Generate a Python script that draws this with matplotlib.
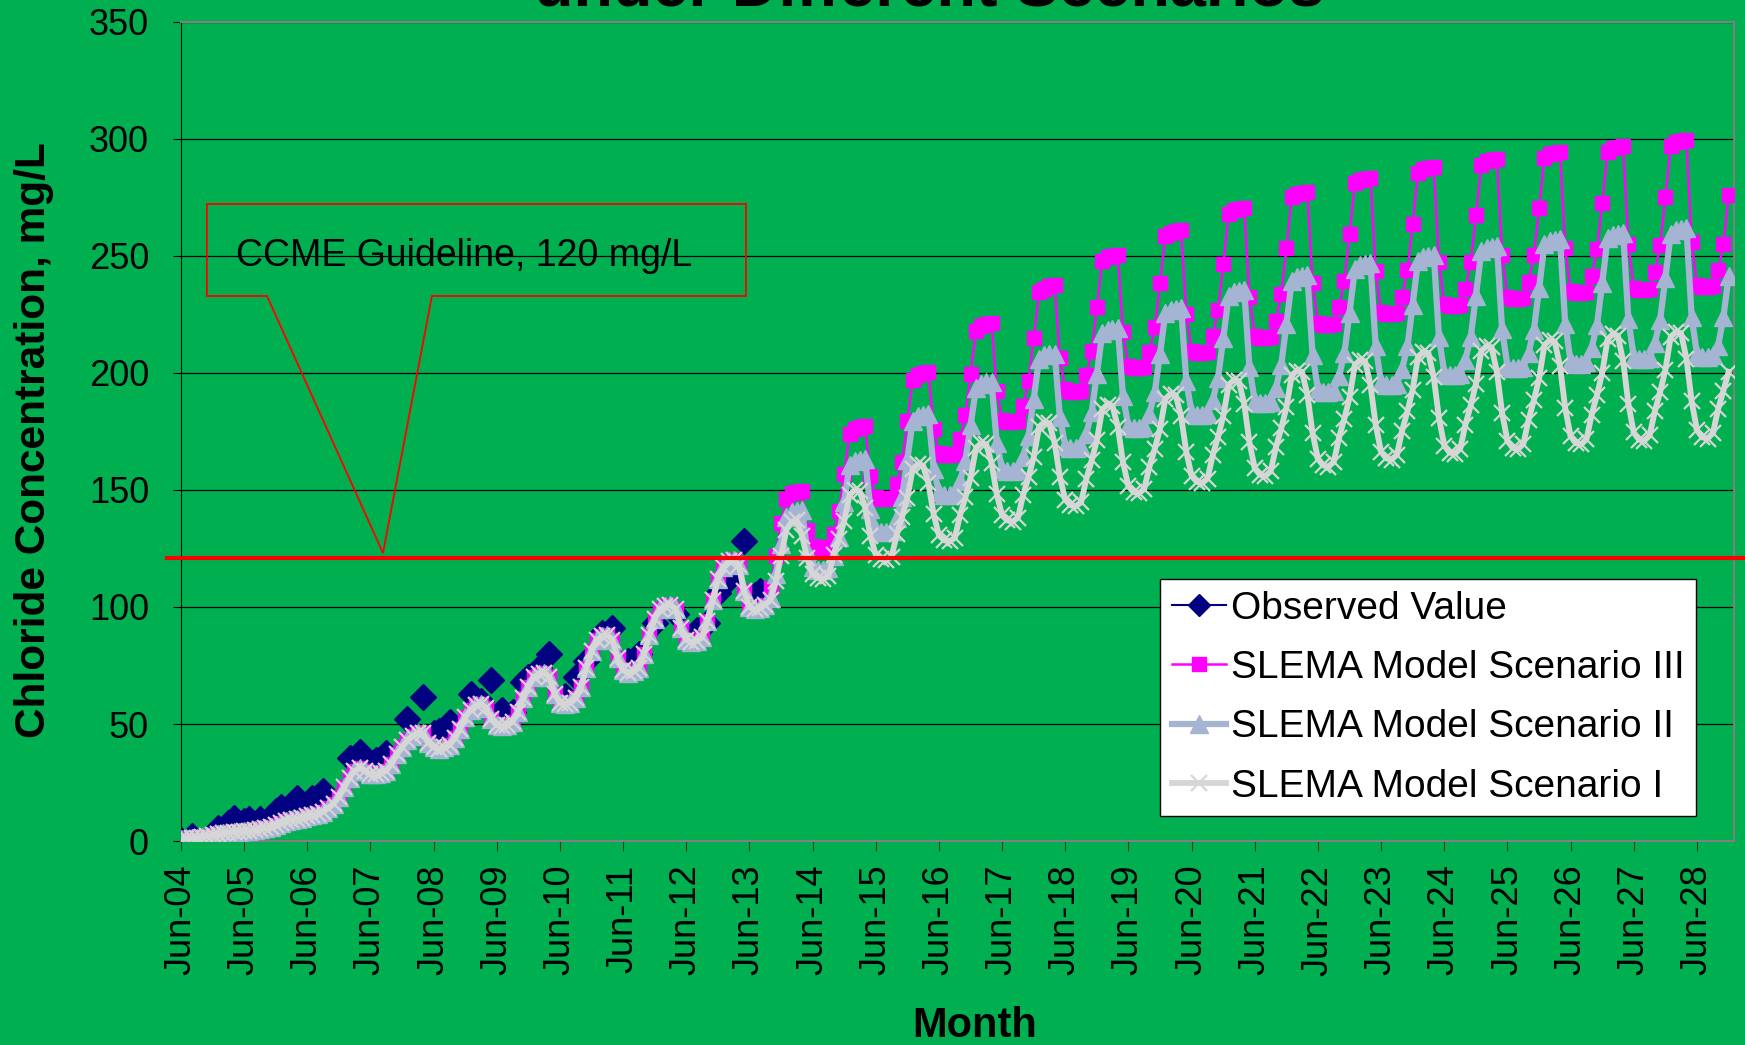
import numpy as np
import pandas as pd
import matplotlib
matplotlib.use("Agg")
import matplotlib.pyplot as plt
from matplotlib.lines import Line2D
from matplotlib.patches import Polygon
import matplotlib.transforms as mtransforms

plt.rcParams["font.family"] = ["Liberation Sans", "DejaVu Sans"]

# ---- data (mg/L, monthly from Jun-04 to Dec-28) ----
# model runs are identical up to Sep-13
early_model = [
    1.0, 1.1, 1.3, 1.5, 1.8, 2.2, 2.6,                                   # 2004 Jun-Dec
    3.0, 3.3, 3.6, 3.8, 4.0, 4.2, 4.4, 4.7, 5.0, 5.5, 6.2, 7.0,          # 2005
    7.8, 8.4, 9.0, 9.4, 9.8, 10.5, 11.0, 11.6, 12.5, 14.0, 16.0, 19.0,   # 2006
    23, 27, 30, 31, 30, 28.5, 28.5, 29, 30, 33, 37, 40,                  # 2007
    43, 45, 46, 46, 42, 40, 39.5, 40, 41, 44, 48, 53,                    # 2008
    56, 58, 58.5, 57, 52, 49.5, 49, 49.5, 51, 55, 61, 66,                # 2009
    70, 71.5, 72, 70, 63, 59, 58.5, 59, 61, 66, 74, 81,                  # 2010
    86, 87.5, 88, 86, 78, 73, 72, 72.5, 74, 80, 88, 95,                  # 2011
    99, 100.5, 101, 99, 91, 86, 85, 85.5, 87, 94, 103, 112,              # 2012
    117, 119.5, 120, 118, 107, 100, 99, 99.5, 101,                       # 2013 Jan-Sep
]

# Oct-13 .. Dec-28
scen3_tail = [
    108, 122, 136,
    146, 148.5, 149, 149.5, 133, 126, 125, 125, 125.5, 131, 141, 157,
    174, 176, 177, 177.5, 156, 147, 146, 146, 146.5, 152.5, 162, 179.5,
    197, 199, 200, 200.5, 176, 166, 165, 165, 165.5, 171.7, 182, 199.7,
    218, 220, 221, 221.5, 192.5, 180, 179, 179, 179.5, 186, 196.4, 215,
    234.5, 236, 237, 237.5, 206.4, 193, 192, 192, 192.5, 199, 209.4, 228,
    248, 249.5, 250, 250.5, 217.4, 203, 202, 202, 202.5, 209, 219.5, 238.3,
    258.5, 260, 260.5, 261, 225, 209.5, 208.5, 208.5, 209, 216, 227, 246.6,
    268, 269.5, 270, 270.5, 232.6, 216, 215, 215, 215.5, 222.4, 233.6, 253.4,
    275, 276.5, 277, 277.5, 238.6, 221.5, 220.6, 220.6, 221, 228, 239.3, 259.3,
    281, 282.5, 283, 283.5, 243.6, 226, 225, 225, 225.5, 232.5, 243.8, 263.8,
    285.5, 287, 287.5, 288, 247.4, 229.5, 228.5, 228.5, 229, 236, 247.3, 267.3,
    289, 290.5, 291, 291.5, 250.5, 232.5, 231.5, 231.5, 232, 239, 250.3, 270.3,
    292, 293.5, 294, 294.5, 253.2, 235, 234, 234, 234.5, 241.5, 252.8, 272.8,
    294.5, 296, 296.5, 297, 255, 236.5, 235.5, 235.5, 236, 243, 254.5, 275,
    297, 298.5, 299, 299.5, 256, 237.8, 236.8, 236.8, 237.3, 244, 255, 276,
]

scen2_tail = [
    104, 114, 127,
    138.5, 140.5, 141, 141.3, 124, 117, 116, 116, 116.5, 121.6, 130, 145,
    160.5, 162.5, 163, 163.3, 142, 133, 132, 132, 132.5, 138, 147, 163,
    179.5, 181.5, 182, 182.3, 159, 149, 148, 148, 148.5, 153.8, 162.4, 177.8,
    193.5, 195.5, 196, 196.3, 170, 159, 158, 158, 158.5, 164, 173, 189,
    206, 207.5, 208, 208.3, 181, 169, 168, 168, 168.5, 174, 183.3, 199.6,
    217, 218.5, 219, 219.3, 190, 177.5, 176.5, 176.5, 177, 182.6, 191.8, 208.1,
    225.5, 227, 227.5, 227.8, 196.6, 183, 182, 182, 182.5, 188.4, 198, 214.9,
    233, 234.5, 235, 235.3, 202.4, 188, 187, 187, 187.5, 193.5, 203.4, 220.8,
    239.5, 241, 241.5, 241.8, 207.8, 193, 192, 192, 192.5, 198.5, 208.4, 225.8,
    244.5, 246, 246.5, 246.8, 211.5, 196, 195, 195, 195.5, 201.6, 211.5, 229.1,
    248, 249.5, 250, 250.3, 215.3, 200, 199, 199, 199.5, 205.6, 215.5, 233.1,
    252, 253.5, 254, 254.3, 218.6, 203, 202, 202, 202.5, 208.6, 218.5, 236.1,
    255, 256.5, 257, 257.3, 221, 205, 204, 204, 204.5, 210.7, 220.7, 238.4,
    257.5, 259, 259.5, 259.8, 223, 207, 206, 206, 206.5, 212.7, 222.7, 240.4,
    259.5, 261, 261.5, 261.8, 224, 208, 207, 207, 207.5, 211.5, 224, 241.3,
]

scen1_tail = [
    103, 111, 122,
    133, 136.5, 137, 130.5, 120.8, 114, 112.5, 112, 113.3, 122.3, 129.1, 136.7,
    148, 150, 149.5, 142.5, 130.5, 122.4, 120.5, 120, 121.5, 131, 138.5, 146.7,
    159, 161, 160.5, 152.8, 139.6, 130.6, 128.5, 128, 129.6, 139.3, 146.9, 155.3,
    168, 170, 169.5, 161.6, 148.2, 139.2, 137, 136.5, 138.2, 148, 155.6, 164.1,
    177, 179, 178.5, 170, 155.6, 145.9, 143.5, 143, 144.8, 154.7, 162.6, 171.3,
    184.5, 186.5, 186, 177, 161.9, 151.6, 149.1, 148.6, 150.5, 160, 167.7, 176.2,
    189, 191, 190.5, 181.5, 166.3, 156, 153.5, 153, 154.9, 164.9, 172.8, 181.6,
    195, 197, 196.5, 186.8, 170.4, 159.3, 156.5, 156, 158, 168.2, 176.3, 185.3,
    199, 201, 200.5, 190.8, 174.4, 163.3, 160.5, 160, 162, 172.3, 180.5, 189.6,
    203.5, 205.5, 205, 194.9, 177.9, 166.4, 163.5, 163, 165.1, 175.4, 183.7, 192.9,
    207, 209, 208.5, 198.1, 180.7, 169, 166, 165.5, 167.7, 177.9, 186.2, 195.4,
    209.5, 211.5, 211, 200.5, 182.9, 171, 168, 167.5, 169.7, 180, 188.4, 197.7,
    212, 214, 213.5, 202.9, 185, 173, 170, 169.5, 171.7, 182.2, 190.7, 200,
    214.5, 216.5, 216, 205.1, 186.9, 174.6, 171.5, 171, 173.3, 183.6, 192, 201.2,
    215.5, 217.5, 217, 206.1, 187.9, 175.6, 172.5, 172, 174.3, 184.5, 192.5, 200.5,
]

obs_dates = [
    "2004-06", "2004-08", "2005-01", "2005-03", "2005-04", "2005-06", "2005-07",
    "2005-09", "2005-12", "2006-01", "2006-04", "2006-06", "2006-07", "2006-09",
    "2007-02", "2007-04", "2007-06", "2007-07", "2007-09", "2008-01", "2008-04",
    "2008-06", "2008-07", "2008-09", "2009-01", "2009-03", "2009-05", "2009-07",
    "2009-09", "2009-11", "2009-12", "2010-02", "2010-04", "2010-07", "2010-09",
    "2010-11", "2011-02", "2011-04", "2011-07", "2011-09", "2011-12", "2012-04",
    "2012-08", "2012-10", "2012-12", "2013-02", "2013-05", "2013-07", "2013-08",
]
obs_values = [
    0.5, 2.0, 5.5, 7.5, 10, 8.5, 9.5,
    9.5, 13, 14.5, 18.5, 16, 18.5, 21.5,
    35.5, 38, 33.5, 34.5, 37.5, 52, 61.5,
    46, 47, 51, 63, 60, 69, 56,
    55, 68, 70, 74, 80, 62, 70,
    77, 89, 91, 77, 80, 93, 97,
    90, 93, 106, 112, 128, 105, 107,
]

year_ticks = ["Jun-04", "Jun-05", "Jun-06", "Jun-07", "Jun-08", "Jun-09", "Jun-10",
              "Jun-11", "Jun-12", "Jun-13", "Jun-14", "Jun-15", "Jun-16", "Jun-17",
              "Jun-18", "Jun-19", "Jun-20", "Jun-21", "Jun-22", "Jun-23", "Jun-24",
              "Jun-25", "Jun-26", "Jun-27", "Jun-28"]

ccme_line = 121

# ---- build series ----
months = pd.date_range("2004-06-01", "2028-12-01", freq="MS")
scen3 = np.array(early_model + scen3_tail)
scen2 = np.array(early_model + scen2_tail)
scen1 = np.array(early_model + scen1_tail)
obs_x = pd.to_datetime(obs_dates, format="%Y-%m")

green = "#00B050"
fig = plt.figure(figsize=(17.45, 10.45), dpi=100, facecolor=green)
ax = fig.add_axes([0.1037, 0.1952, 0.8900, 0.7838])
ax.set_facecolor(green)

ax.plot(obs_x, obs_values, linestyle="none", marker="D", ms=13.5,
        color="#000080", zorder=2)
l3, = ax.plot(months, scen3, color="#FF00FF", lw=1.8, marker="s", ms=9.5,
              mec="#FF00FF", zorder=3)
l2, = ax.plot(months, scen2, color="#A4B4D2", lw=4.5, marker="^", ms=13.5,
              mec="#A4B4D2", zorder=4)
l1, = ax.plot(months, scen1, color="#D6D6D6", lw=4.2, marker="x", ms=11,
              mew=1.6, zorder=5)

# guideline line, drawn a little past the plot edges
trans = mtransforms.blended_transform_factory(ax.transAxes, ax.transData)
ax.plot([-0.009, 1.007], [ccme_line, ccme_line], color="red", lw=3,
        transform=trans, clip_on=False, zorder=6)

# callout box
callout = Polygon([(0.0167, 0.7778), (0.3638, 0.7778), (0.3638, 0.6654),
                   (0.1616, 0.6654), (0.1301, 0.3516), (0.0554, 0.6654),
                   (0.0167, 0.6654)], closed=True, fill=False,
                  edgecolor="red", lw=1.3, transform=ax.transAxes,
                  zorder=7)
ax.add_patch(callout)
ax.text(0.0354, 0.714, "CCME Guideline, 120 mg/L", transform=ax.transAxes,
        fontsize=27, va="center", ha="left", zorder=7)

# axes
ax.set_ylim(0, 350)
ax.set_yticks(range(0, 351, 50))
ax.set_xlim(months[0], pd.Timestamp("2029-01-01"))
ax.set_xticks(pd.date_range("2004-06-01", "2028-06-01", freq="12MS"))
ax.set_xticklabels(year_ticks, rotation=90)
ax.tick_params(axis="y", labelsize=26, length=6, pad=17, color="black")
ax.tick_params(axis="x", labelsize=26, length=7, pad=10, color="#333333")
ax.set_axisbelow(True)
ax.yaxis.grid(True, color="black", lw=0.9)

ax.spines["left"].set_color("black")
for side in ["top", "right", "bottom"]:
    ax.spines[side].set_color("#808080")
    ax.spines[side].set_linewidth(1.5)

# title is cut off by the top edge in the original
fig.text(0.5324, 1 - 5 / 1045, "under Different Scenarios", fontsize=46.5,
         fontweight="bold", ha="center", va="baseline")
fig.text(34 / 1745, 1 - 440 / 1045, "Chloride Concentration, mg/L",
         fontsize=30.5, fontweight="bold", rotation=90,
         ha="center", va="center")
fig.text(975 / 1745, 8 / 1045, "Month", fontsize=30, fontweight="bold",
         ha="center", va="baseline")

obs_handle = Line2D([], [], color="#000080", lw=1.5, marker="D", ms=11)
leg = ax.legend([obs_handle, l3, l2, l1],
                ["Observed Value", "SLEMA Model Scenario III",
                 "SLEMA Model Scenario II", "SLEMA Model Scenario I"],
                loc="upper right", bbox_to_anchor=(0.9755, 0.32),
                borderaxespad=0, fontsize=28, handlelength=1.4,
                handletextpad=0.12, labelspacing=0.6, borderpad=0.3,
                fancybox=False, framealpha=1, facecolor="white",
                edgecolor="black")
leg.get_frame().set_linewidth(1.0)
leg.set_zorder(10)

fig.savefig("out.png", dpi=100, facecolor=green)
